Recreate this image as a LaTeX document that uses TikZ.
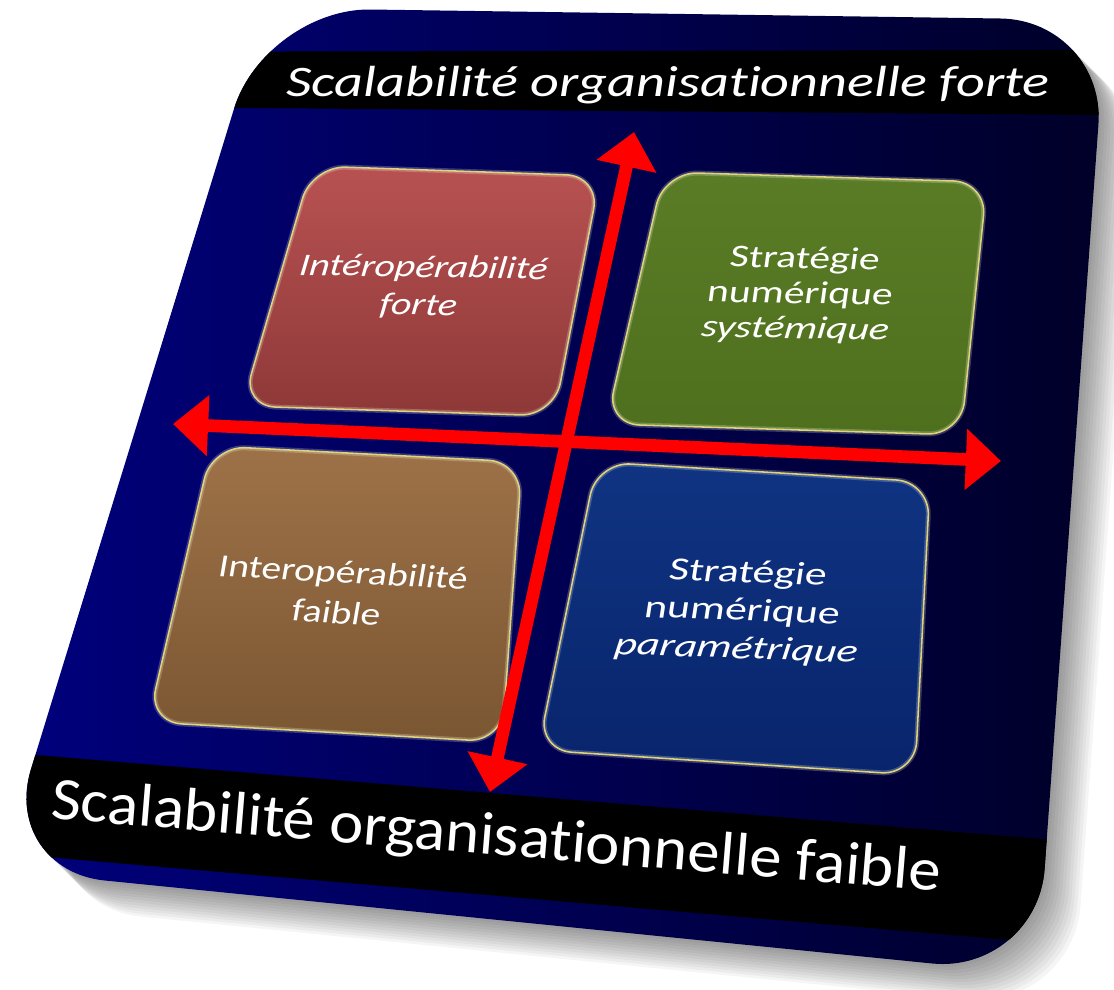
\documentclass[tikz,border=0pt]{standalone}
\usepackage{fontspec}
\setmainfont{Carlito}[Ligatures={NoCommon}]
\usetikzlibrary{arrows.meta}
\definecolor{bgL}{RGB}{0,0,126}
\definecolor{bgR}{RGB}{0,0,40}
\definecolor{axisred}{RGB}{255,0,0}
\definecolor{edgeY}{RGB}{214,200,80}
\definecolor{redT}{RGB}{184,82,82}
\definecolor{redB}{RGB}{142,56,56}
\definecolor{grnT}{RGB}{90,124,38}
\definecolor{grnB}{RGB}{78,112,30}
\definecolor{brnT}{RGB}{158,114,72}
\definecolor{brnB}{RGB}{122,86,50}
\definecolor{bluT}{RGB}{16,52,130}
\definecolor{bluB}{RGB}{8,36,108}
\begin{document}
\begin{tikzpicture}[x=0.025cm,y=-0.025cm,
  quad/.style={draw=edgeY, line width=1.1pt, rounded corners=24pt},
  rim/.style={draw=white, draw opacity=0.22, line width=3.5pt, rounded corners=24pt},
  lbl/.style={text=white, align=center, inner sep=0pt, transform shape},
  axisline/.style={draw=axisred, line width=9pt,
    {Triangle[width=42pt,length=25pt]}-{Triangle[width=42pt,length=25pt]}}]
\useasboundingbox (0,0) rectangle (1114,989);
% shadow
\foreach \d in {3,6,...,36}{
  \fill[black, opacity=0.04, rounded corners=75pt]
    ({265+\d},{8+\d}) -- ({1106+\d},{20+\d}) -- ({1037+\d},{974+\d}) -- ({0+\d},{870+\d}) -- cycle;
}
% background
\coordinate (bgA) at (265,8);
\coordinate (bgB) at (1106,20);
\coordinate (bgC) at (1037,974);
\coordinate (bgD) at (0,870);
\shade[left color=bgL, right color=bgR, rounded corners=75pt]
  (bgA) -- (bgB) -- (bgC) -- (bgD) -- cycle;
\begin{scope}
  \clip[rounded corners=75pt] (bgA) -- (bgB) -- (bgC) -- (bgD) -- cycle;
  \fill[black] (0,52) -- (1114,50) -- (1114,115) -- (0,106) -- cycle;
  \fill[black] (0,752) -- (1114,845) -- (1114,949) -- (0,853) -- cycle;
\end{scope}
% boxes
\path[quad, top color=redT, bottom color=redB] (312,166) -- (600,176) -- (554,416) -- (242,406) -- cycle;
\path[rim] (312,166) -- (600,176) -- (554,416) -- (242,406) -- cycle;
\path[quad, top color=grnT, bottom color=grnB] (664,172) -- (987,182) -- (961,435) -- (606,424) -- cycle;
\path[rim] (664,172) -- (987,182) -- (961,435) -- (606,424) -- cycle;
\path[quad, top color=brnT, bottom color=brnB] (212,446) -- (522,462) -- (502,742) -- (148,722) -- cycle;
\path[rim] (212,446) -- (522,462) -- (502,742) -- (148,722) -- cycle;
\path[quad, top color=bluT, bottom color=bluB] (597,462) -- (930,482) -- (915,775) -- (538,750) -- cycle;
\path[rim] (597,462) -- (930,482) -- (915,775) -- (538,750) -- cycle;
% axes
\coordinate (vT) at (634,132);
\coordinate (vB) at (490,792);
\coordinate (hL) at (173,424);
\coordinate (hR) at (1001,461);
\draw[axisline] (vB) -- (vT);
\draw[axisline] (hL) -- (hR);
% labels
\node[lbl, font=\itshape\fontsize{31}{36}\selectfont, anchor=base, shift={(668,96)}, xscale=1.29] (topT) at (0,0) {Scalabilité organisationnelle forte};
\node[lbl, font=\fontsize{43}{50}\selectfont, anchor=base, shift={(495,855)}, rotate=-4.7, xscale=1.07] (botT) at (0,0) {Scalabilité organisationnelle faible};
\node[lbl, font=\fontsize{22.5}{27}\selectfont, shift={(421,287)}, rotate=-1, xslant=0.12, xscale=1.25] (q1) at (0,0) {\itshape Intéropérabilité\\\itshape forte};
\node[lbl, font=\fontsize{22.5}{25}\selectfont, shift={(800,295)}, rotate=-1, xslant=0.12, xscale=1.31] (q2) at (0,0) {Stratégie\\numérique\\\itshape systémique};
\node[lbl, font=\fontsize{23}{29}\selectfont, shift={(340,592)}, rotate=-3, xslant=0.12, xscale=1.22] (q3) at (0,0) {Interopérabilité\\faible};
\node[lbl, font=\fontsize{23}{27}\selectfont, shift={(742,612)}, rotate=-2, xslant=0.12, xscale=1.35] (q4) at (0,0) {Stratégie\\numérique\\\itshape paramétrique};
\end{tikzpicture}
\end{document}
